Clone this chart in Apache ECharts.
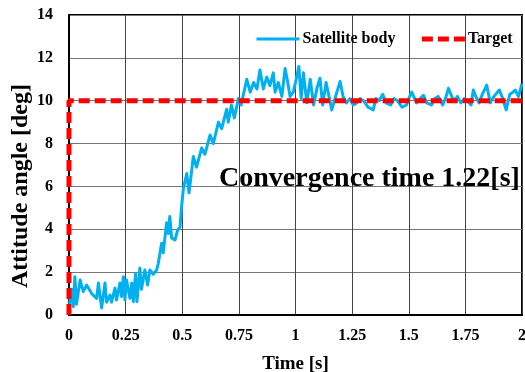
<!DOCTYPE html>
<html>
<head>
<meta charset="utf-8">
<script src="https://cdn.jsdelivr.net/npm/echarts@6/dist/echarts.min.js"></script>
<style>
  html, body { margin: 0; padding: 0; background: #fff; overflow: hidden; }
  #chart { width: 525px; height: 372px; }
</style>
</head>
<body>
<div id="chart"></div>
<script>
// time axis [s] and measured attitude of the satellite body [deg]
const timeVals = [
  0, 0.012, 0.019, 0.026, 0.033, 0.049, 0.063, 0.078, 0.10, 0.122,
  0.13, 0.144, 0.159, 0.166, 0.181, 0.188, 0.203, 0.21, 0.225, 0.232,
  0.24, 0.247, 0.254, 0.269, 0.277, 0.284, 0.294, 0.30, 0.313, 0.32,
  0.335, 0.347, 0.357, 0.372, 0.387, 0.394, 0.409, 0.416, 0.431, 0.438,
  0.445, 0.453, 0.468, 0.48, 0.49, 0.497, 0.505, 0.52, 0.53, 0.549,
  0.563, 0.586, 0.60, 0.623, 0.637, 0.66, 0.674, 0.696, 0.703, 0.717,
  0.73, 0.748, 0.76, 0.785, 0.80, 0.815, 0.83, 0.843, 0.858, 0.873,
  0.887, 0.902, 0.91, 0.924, 0.94, 0.954, 0.966, 0.976, 0.99, 1.0,
  1.015, 1.025, 1.035, 1.05, 1.065, 1.08, 1.095, 1.108, 1.12, 1.135,
  1.15, 1.16, 1.18, 1.197, 1.21, 1.225, 1.24, 1.255, 1.27, 1.285,
  1.30, 1.32, 1.343, 1.355, 1.37, 1.385, 1.40, 1.42, 1.435, 1.45,
  1.47, 1.49, 1.50, 1.513, 1.535, 1.55, 1.565, 1.58, 1.60, 1.615,
  1.63, 1.65, 1.665, 1.675, 1.69, 1.70, 1.715, 1.73, 1.745, 1.76,
  1.775, 1.785, 1.80, 1.81, 1.825, 1.844, 1.86, 1.87, 1.88, 1.90,
  1.915, 1.93, 1.946, 1.96, 1.97, 1.985, 2.0
]
const bodyAngle = [
  0.3, 1.2, 0.39, 1.79, 0.5, 1.63, 1.09, 1.4, 1.0, 0.78,
  1.49, 0.33, 1.49, 0.6, 0.93, 0.6, 1.26, 0.7, 1.49, 0.86,
  1.79, 0.7, 1.63, 0.78, 1.49, 0.62, 1.94, 0.62, 2.19, 1.2,
  2.1, 1.4, 2.1, 1.9, 2.1, 2.4, 3.35, 2.9, 4.3, 3.8,
  4.6, 3.6, 3.5, 3.97, 4.1, 5.05, 5.9, 6.6, 5.7, 7.4,
  6.9, 7.8, 7.5, 8.4, 8.0, 9.0, 8.7, 9.6, 9.0, 9.8,
  9.2, 10.1, 9.8, 11.0, 10.4, 10.85, 10.55, 11.43, 10.55, 11.1,
  10.7, 11.3, 10.4, 10.85, 10.2, 11.5, 10.85, 10.2, 10.4, 10.85,
  11.6, 10.1, 11.3, 9.9, 11.0, 9.8, 10.6, 11.05, 9.8, 10.85,
  10.1, 9.57, 10.3, 10.9, 10.2, 9.9, 10.1, 9.8, 9.9, 10.1,
  10.0, 9.7, 9.57, 10.1, 10.0, 10.3, 9.9, 9.8, 10.1, 10.0,
  9.7, 9.8, 10.1, 10.4, 9.9, 10.1, 10.25, 9.9, 9.8, 10.1,
  10.2, 9.8, 10.2, 10.58, 10.2, 10.0, 10.2, 9.9, 10.1, 10.0,
  9.8, 10.5, 10.1, 9.9, 10.3, 10.73, 9.9, 10.1, 10.25, 10.5,
  10.1, 9.57, 10.3, 10.4, 10.5, 10.2, 10.8
]

// step target
const targetTime = [0, 0, 2]
const targetAngle = [0, 10, 10]

const xTicks = ['0', '0.25', '0.5', '0.75', '1', '1.25', '1.5', '1.75', '2']

const serif = '"Liberation Serif", "Times New Roman", serif'

const chart = echarts.init(document.getElementById('chart'), null, { renderer: 'canvas' })

chart.setOption({
  animation: false,
  backgroundColor: '#fff',
  grid: {
    left: 69, right: 3, top: 15, bottom: 57,
    outerBoundsMode: 'none',
    show: true,
    borderColor: '#000',
    borderWidth: 2,
  },
  legend: {
    left: 250,
    top: 26,
    itemWidth: 43,
    itemHeight: 14,
    itemGap: 24,
    itemStyle: { opacity: 0 },
    textStyle: { fontFamily: serif, fontWeight: 'bold', fontSize: 16, color: '#000', padding: [0, 0, 0, -2] },
    data: [
      { name: 'Satellite body', lineStyle: { width: 3, color: '#00b0f0' } },
      { name: 'Target', lineStyle: { width: 5, color: '#ff0000', type: [11, 5] } },
    ],
  },
  xAxis: {
    type: 'value',
    min: 0,
    max: 2,
    interval: 0.25,
    name: 'Time [s]',
    nameLocation: 'middle',
    nameGap: 40,
    nameTextStyle: { fontFamily: serif, fontWeight: 'bold', fontSize: 19, color: '#000' },
    axisLine: { show: true, lineStyle: { color: '#000', width: 2 } },
    axisTick: { show: false },
    axisLabel: {
      margin: 13,
      fontFamily: serif, fontWeight: 'bold', fontSize: 16, color: '#000',
      formatter: (v) => xTicks[Math.round(v / 0.25)],
    },
    splitLine: { show: true, lineStyle: { color: '#444', width: 1 } },
  },
  yAxis: {
    type: 'value',
    min: 0,
    max: 14,
    interval: 2,
    axisLine: { show: true, lineStyle: { color: '#000', width: 2 } },
    axisTick: { show: false },
    axisLabel: {
      margin: 16,
      fontFamily: serif, fontWeight: 'bold', fontSize: 16, color: '#000',
    },
    splitLine: { show: true, lineStyle: { color: '#777', width: 1 } },
  },
  graphic: [
    {
      type: 'text',
      x: 21, y: 186,
      rotation: Math.PI / 2,
      style: {
        text: 'Attitude angle [deg]',
        font: 'bold 24px ' + serif,
        fill: '#000',
        textAlign: 'center',
        textVerticalAlign: 'middle',
      },
    },
    {
      type: 'text',
      x: 219, y: 179,
      z: 10,
      style: {
        text: 'Convergence time 1.22[s]',
        font: 'bold 28px ' + serif,
        fill: '#000',
        textAlign: 'left',
        textVerticalAlign: 'middle',
      },
    },
  ],
  series: [
    {
      name: 'Satellite body',
      type: 'line',
      data: timeVals.map((t, i) => [t, bodyAngle[i]]),
      showSymbol: false,
      symbol: 'none',
      color: '#00b0f0',
      lineStyle: { color: '#00b0f0', width: 3, join: 'round' },
      z: 2,
    },
    {
      name: 'Target',
      type: 'line',
      data: targetTime.map((t, i) => [t, targetAngle[i]]),
      showSymbol: false,
      symbol: 'none',
      clip: false,
      color: '#ff0000',
      lineStyle: { color: '#ff0000', width: 5, type: [11, 5] },
      z: 3,
    },
  ],
})
</script>
</body>
</html>
